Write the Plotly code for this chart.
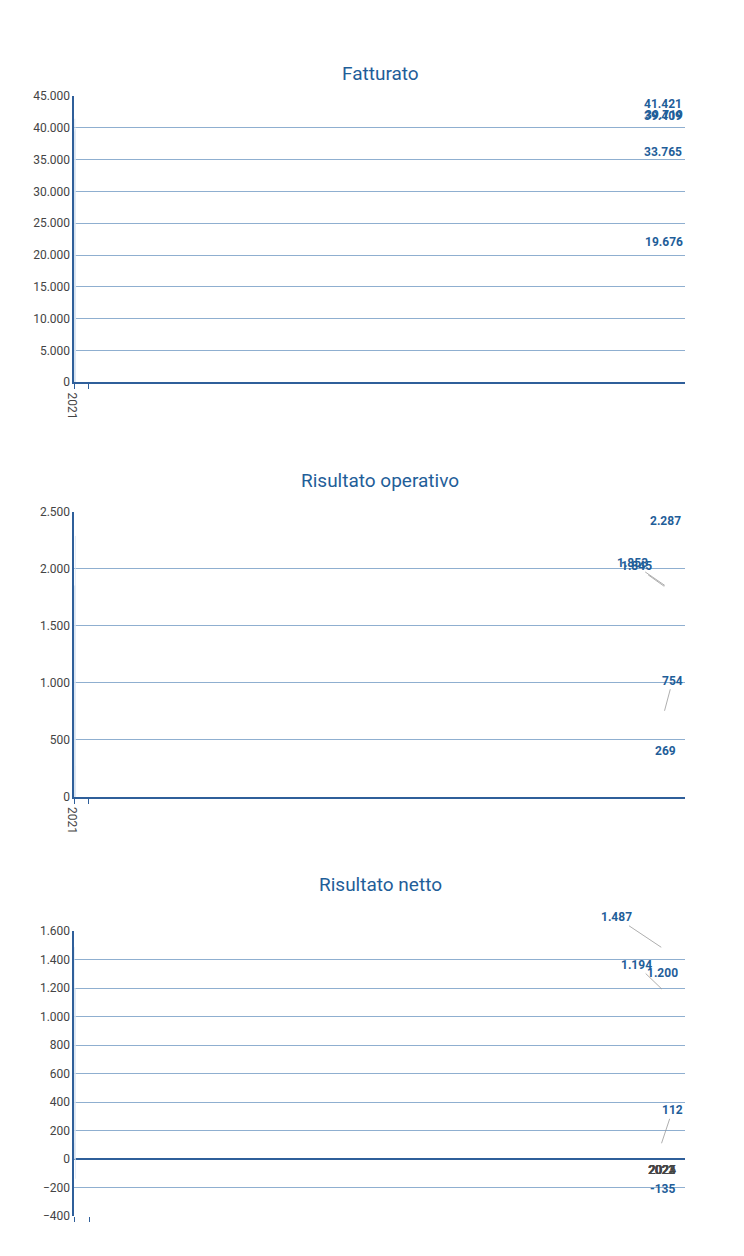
import plotly.graph_objects as go

YEARS = ["2021", "2022", "2023", "2024", "2025"]
FATTURATO = [33765, 39409, 41421, 39719, 19676]
OPERATIVO = [1845, 754, 1853, 2287, 269]
NETTO = [1487, 112, 1194, 1200, -135]

BAR = "#1F5E99"
GRID = "#8FAFD0"
AXIS = "#2F5F9A"
TXT = "#1F5E99"


def fmt(v):
    return f"{v:,}".replace(",", ".")


# (title, values, y-range, dtick, y-domain, title y px, label offsets {idx: (ax, ay)})
charts = [
    ("Fatturato", FATTURATO, [0, 45000], 5000, [0.702, 0.930], 52, {}),
    ("Risultato operativo", OPERATIVO, [0, 2500], 500, [0.372, 0.599], 472,
     {0: (-28, -20), 1: (8, -30), 2: (-32, -22)}),
    ("Risultato netto", NETTO, [-400, 1600], 200, [0.038, 0.265], 890,
     {0: (-45, -30), 1: (11, -33), 2: (-25, -24)}),
]

fig = go.Figure()
annotations = []
for i, (title, vals, yr, dt, dom, ty, offs) in enumerate(charts, start=1):
    xa = "x" if i == 1 else f"x{i}"
    ya = "y" if i == 1 else f"y{i}"
    fig.add_trace(go.Bar(x=YEARS, y=vals, marker_color=BAR, width=0.4,
                         xaxis=xa, yaxis=ya, showlegend=False))
    xkey = "xaxis" if i == 1 else f"xaxis{i}"
    ykey = "yaxis" if i == 1 else f"yaxis{i}"
    fig.update_layout({
        xkey: dict(type="category", domain=[0.089, 0.910], anchor=ya,
                   showline=(i != 3), linecolor=AXIS, linewidth=1.5,
                   ticks="outside", tickson="boundaries", ticklen=5,
                   tickcolor=AXIS, showticklabels=(i != 3), automargin=False,
                   tickfont=dict(size=12, color="#444")),
        ykey: dict(domain=dom, range=yr, dtick=dt, anchor=xa, showgrid=True,
                   gridcolor=GRID, gridwidth=1, showline=True, linecolor=AXIS,
                   linewidth=1.5, zeroline=(i == 3), zerolinecolor=AXIS,
                   zerolinewidth=1.5, tickformat=",d", automargin=False,
                   tickfont=dict(size=12, color="#444")),
    })
    annotations.append(dict(text=title, xref="paper", yref="paper", x=0.5,
                            y=1 - ty / 1256, showarrow=False,
                            font=dict(size=19, color=TXT)))
    for j, v in enumerate(vals):
        base = dict(text=f"<b>{fmt(v)}</b>", xref=xa, yref=ya, x=YEARS[j], y=v,
                    font=dict(size=12, color=TXT))
        if j in offs:
            ax, ay = offs[j]
            base.update(showarrow=True, arrowhead=0, arrowwidth=0.8,
                        arrowcolor="#999", ax=ax, ay=ay, standoff=0)
        elif v < 0:
            base.update(showarrow=False, yanchor="top", yshift=-2)
        else:
            base.update(showarrow=False, yanchor="bottom", yshift=6)
        annotations.append(base)
    if i == 3:
        for yv in YEARS:
            annotations.append(dict(text=yv, xref=xa, yref=ya, x=yv, y=0,
                                    yanchor="top", yshift=-2, showarrow=False,
                                    font=dict(size=12, color="#444")))

fig.update_layout(
    width=744, height=1256, margin=dict(l=0, r=0, t=0, b=0),
    paper_bgcolor="white", plot_bgcolor="white",
    separators=",.", font=dict(family="Roboto, Arial"),
    annotations=annotations,
)

fig.write_html("out.html")
